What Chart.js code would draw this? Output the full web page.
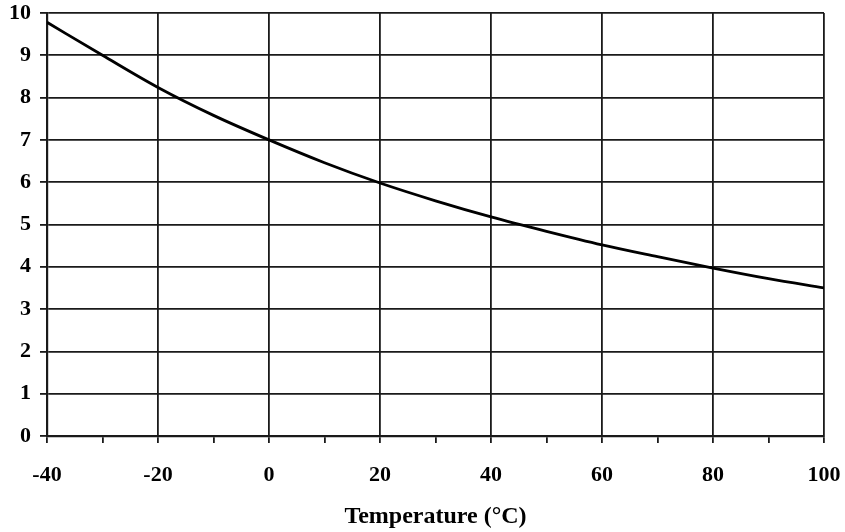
<!DOCTYPE html>
<html>
<head>
<meta charset="utf-8">
<script src="https://cdn.jsdelivr.net/npm/chart.js@4.4.0/dist/chart.umd.min.js"></script>
<style>
  html, body { margin: 0; padding: 0; background: #fff; }
  #wrap { width: 845px; height: 532px; }
</style>
</head>
<body>
<div id="wrap"><canvas id="tempChart"></canvas></div>
<script>
// values
const temps = [-40, -30, -20, -10, 0, 10, 20, 30, 40, 50, 60, 70, 80, 90, 100];
const values = [9.78, 9.0, 8.24, 7.58, 7.0, 6.46, 5.98, 5.56, 5.18, 4.84, 4.52, 4.24, 3.97, 3.72, 3.5];
const xTicks = [-40, -20, 0, 20, 40, 60, 80, 100];
const yMax = 10;
const xLabel = 'Temperature (°C)';

const font = { family: '"Liberation Serif", "Times New Roman", serif', size: 22, weight: 'bold' };

const points = temps.map((t, i) => ({ x: t, y: values[i] }));

new Chart(document.getElementById('tempChart'), {
  type: 'line',
  data: {
    datasets: [{
      data: points,
      borderColor: '#000',
      borderWidth: 2.8,
      pointRadius: 0,
      fill: false,
      cubicInterpolationMode: 'monotone'
    }]
  },
  options: {
    responsive: true,
    maintainAspectRatio: false,
    animation: false,
    layout: { padding: { left: 0, right: 0, top: 0, bottom: 1 } },
    plugins: {
      legend: { display: false },
      tooltip: { enabled: false }
    },
    scales: {
      x: {
        type: 'linear',
        min: -40,
        max: 100,
        // fixed axis box so the plot area lands where the original is
        afterFit: scale => {
          scale.height = 95;
          scale.paddingLeft = 0;
          scale.paddingRight = 21;
        },
        ticks: {
          stepSize: 10,
          color: '#000',
          font: font,
          padding: 19,
          maxRotation: 0,
          autoSkip: false,
          callback: v => xTicks.includes(v) ? String(v) : ''
        },
        grid: {
          color: ctx => (ctx.tick && ctx.tick.value % 20 === 0) ? '#1a1a1a' : 'rgba(0,0,0,0)',
          tickColor: '#1a1a1a',
          lineWidth: 1.8,
          tickLength: 7
        },
        border: { color: '#1a1a1a', width: 2.2 },
        title: {
          display: true,
          text: xLabel,
          color: '#000',
          font: { ...font, size: 24 },
          padding: { top: 13, bottom: 0 }
        }
      },
      y: {
        min: 0,
        max: yMax,
        afterFit: scale => {
          scale.paddingTop = 13;
        },
        ticks: {
          stepSize: 1,
          color: '#000',
          font: font,
          padding: 9
        },
        grid: {
          color: '#1a1a1a',
          tickColor: '#1a1a1a',
          lineWidth: 1.8,
          tickLength: 7
        },
        border: { color: '#1a1a1a', width: 2.2 }
      }
    }
  }
});
</script>
</body>
</html>
